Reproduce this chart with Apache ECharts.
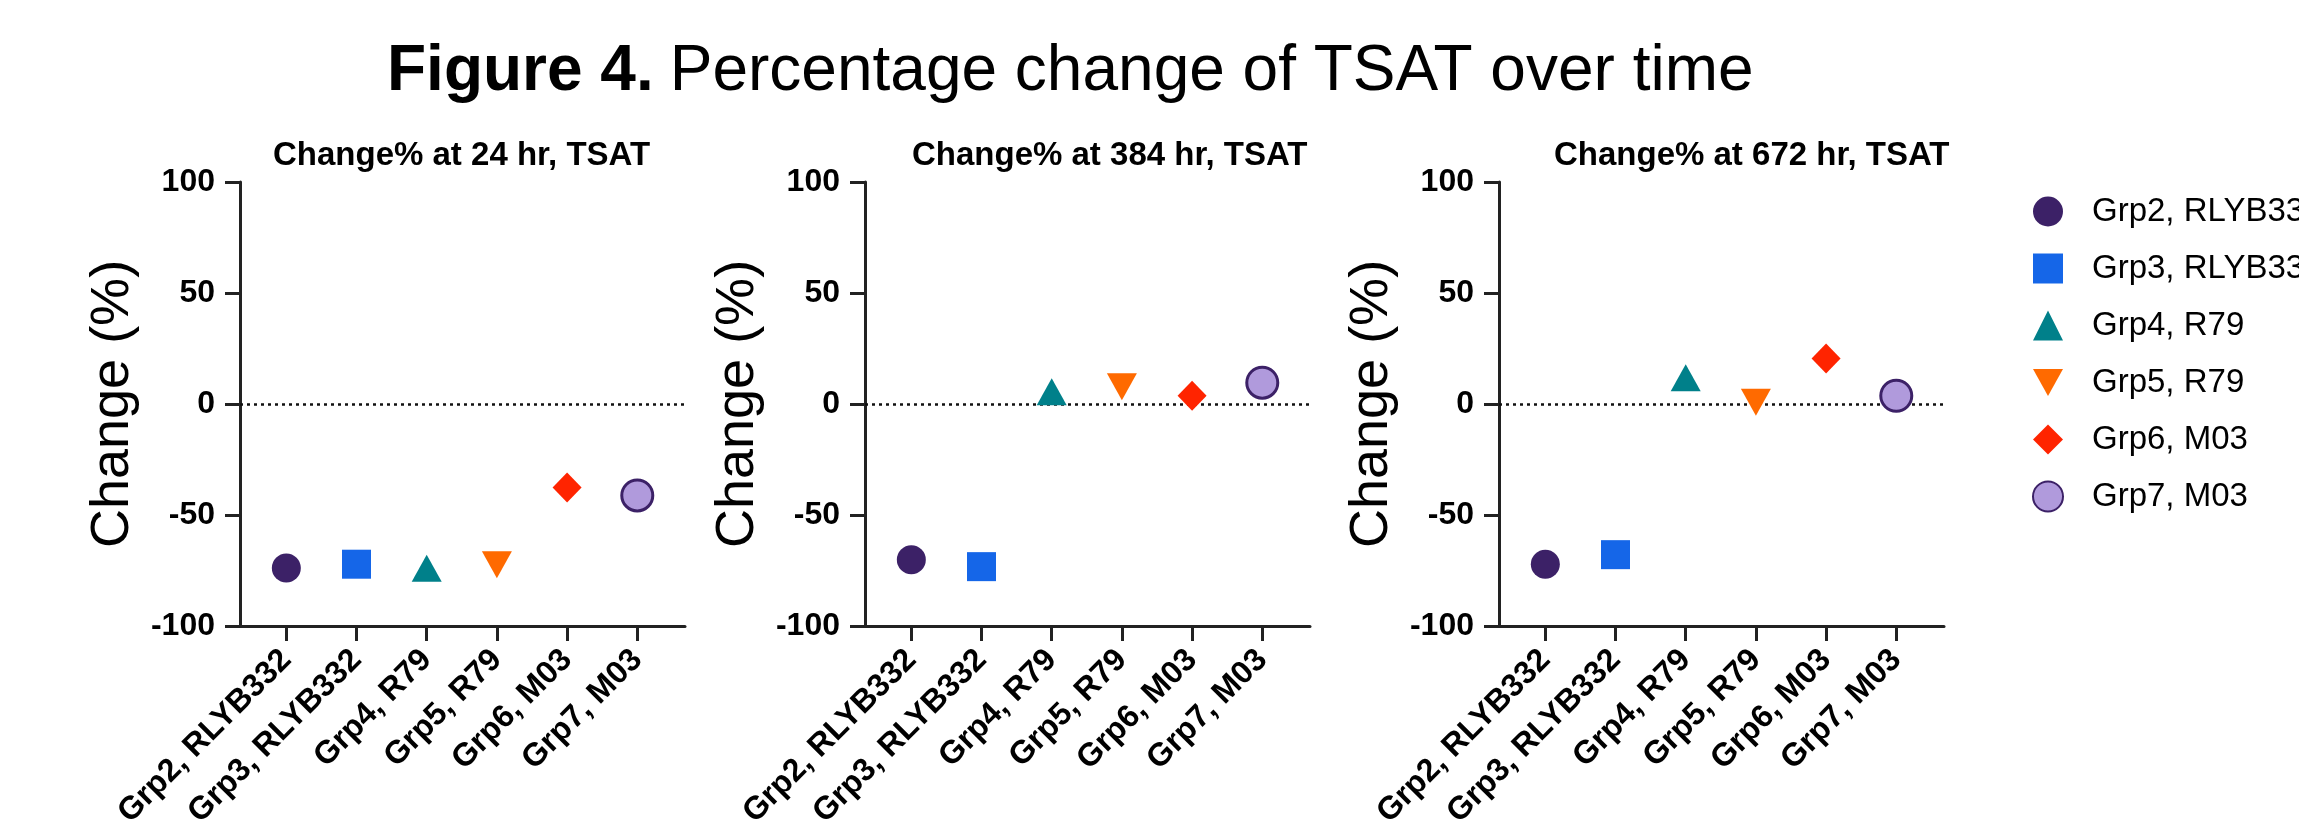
<!DOCTYPE html>
<html>
<head>
<meta charset="utf-8">
<script src="https://cdn.jsdelivr.net/npm/echarts@6/dist/echarts.min.js"></script>
<style>
  html, body { margin: 0; padding: 0; background: #ffffff; }
  #chart { width: 2299px; height: 831px; }
</style>
</head>
<body>
<div id="chart"></div>
<script>
// ---------- data ----------
const categories = ['Grp2, RLYB332', 'Grp3, RLYB332', 'Grp4, R79', 'Grp5, R79', 'Grp6, M03', 'Grp7, M03'];
const panelTitles = ['Change% at 24 hr, TSAT', 'Change% at 384 hr, TSAT', 'Change% at 672 hr, TSAT'];
const change24hr = [-73.9, -72.2, -74.0, -72.5, -37.6, -41.2];
const change384hr = [-70.2, -73.3, 5.5, 7.8, 3.7, 9.6];
const change672hr = [-72.2, -67.9, 11.8, 0.8, 20.5, 3.7];
const yTickMin = -100;
const yTickMax = 100;
const yTickStep = 50;
const yAxisTitle = 'Change (%)';
const figureLabel = 'Figure 4.';
const figureCaption = 'Percentage change of TSAT over time';

// ---------- styling / layout ----------
const panelValues = [change24hr, change384hr, change672hr];
const panelLeft = [240, 865, 1499];
const titleLeft = [268, 907, 1549];
const gridTop = 182, gridW = 445, gridH = 445;
const FONT = '"Liberation Sans", Arial, Helvetica, sans-serif';
const AXIS_COLOR = '#222';
const DOWN_TRIANGLE = 'path://M0,0 L10,0 L5,9 Z';

const markerStyles = [
  { symbol: 'circle', size: 29, rotate: 0, color: '#3C2167' },
  { symbol: 'rect', size: 29, rotate: 0, color: '#1566E8' },
  { symbol: 'triangle', size: [30, 27], rotate: 0, color: '#00808A' },
  { symbol: DOWN_TRIANGLE, size: [30, 27], rotate: 0, color: '#FF6A00' },
  { symbol: 'diamond', size: [29, 30], rotate: 0, color: '#FF2400' },
  { symbol: 'circle', size: 31, rotate: 0, color: '#B09ADC', border: '#3C2167', borderWidth: 3 }
];

const grids = [], xAxes = [], yAxes = [], titles = [], series = [];
const idx = categories.map((_, i) => i);

titles.push({
  text: '{b|' + figureLabel + '}{r|' + figureCaption + '}',
  left: 382, top: 32,
  textStyle: {
    rich: {
      b: { fontFamily: FONT, fontSize: 64, fontWeight: 'bold', color: '#000', lineHeight: 70 },
      r: { fontFamily: FONT, fontSize: 64, fontWeight: 'normal', color: '#000', lineHeight: 70, padding: [0, 0, 0, 16] }
    }
  }
});

panelValues.forEach((vals, p) => {
  grids.push({ left: panelLeft[p], top: gridTop, width: gridW, height: gridH, containLabel: false });
  titles.push({
    text: panelTitles[p], left: titleLeft[p], top: 134,
    textStyle: { fontFamily: FONT, fontSize: 33, fontWeight: 'bold', color: '#000' }
  });
  xAxes.push({
    type: 'value', gridIndex: p, min: -0.66, max: 5.68,
    axisLine: { show: true, onZero: false, lineStyle: { color: AXIS_COLOR, width: 3 } },
    axisTick: { show: true, length: 15, customValues: idx, lineStyle: { color: AXIS_COLOR, width: 3 } },
    axisLabel: {
      show: true, customValues: idx, rotate: 45, margin: 29,
      formatter: v => categories[Math.round(v)] || '',
      fontFamily: FONT, fontSize: 32, fontWeight: 'bold', color: '#000'
    },
    splitLine: { show: false }
  });
  yAxes.push({
    type: 'value', gridIndex: p, min: yTickMin, max: yTickMax, interval: yTickStep,
    name: yAxisTitle, nameLocation: 'middle', nameGap: 100,
    nameTextStyle: { fontFamily: FONT, fontSize: 54, color: '#000' },
    axisLine: { show: true, onZero: false, lineStyle: { color: AXIS_COLOR, width: 3 } },
    axisTick: { show: true, length: 15, lineStyle: { color: AXIS_COLOR, width: 3 } },
    axisLabel: { margin: 25, fontFamily: FONT, fontSize: 32, fontWeight: 'bold', color: '#000' },
    splitLine: { show: false }
  });
  categories.forEach((name, i) => {
    const m = markerStyles[i];
    const s = {
      type: 'scatter', name: name, xAxisIndex: p, yAxisIndex: p,
      data: [[i, vals[i]]],
      symbol: m.symbol, symbolSize: m.size, symbolRotate: m.rotate,
      itemStyle: { color: m.color, borderColor: m.border || m.color, borderWidth: m.borderWidth || 0, opacity: 1 },
      emphasis: { disabled: true },
      z: 3
    };
    if (i === 0) {
      s.markLine = {
        silent: true, symbol: 'none', animation: false,
        label: { show: false },
        lineStyle: { type: [3, 4], color: '#111', width: 2.5 },
        data: [{ yAxis: 0 }],
        z: 1
      };
    }
    series.push(s);
  });
});

const chart = echarts.init(document.getElementById('chart'), null, { renderer: 'canvas' });
chart.setOption({
  backgroundColor: '#ffffff',
  animation: false,
  title: titles,
  grid: grids,
  xAxis: xAxes,
  yAxis: yAxes,
  legend: {
    data: categories,
    orient: 'vertical',
    left: 2027, top: 190,
    itemWidth: 30, itemHeight: 30, itemGap: 24,
    textStyle: { fontFamily: FONT, fontSize: 33, color: '#000', padding: [0, 0, 0, 24] }
  },
  series: series
});
</script>
</body>
</html>
